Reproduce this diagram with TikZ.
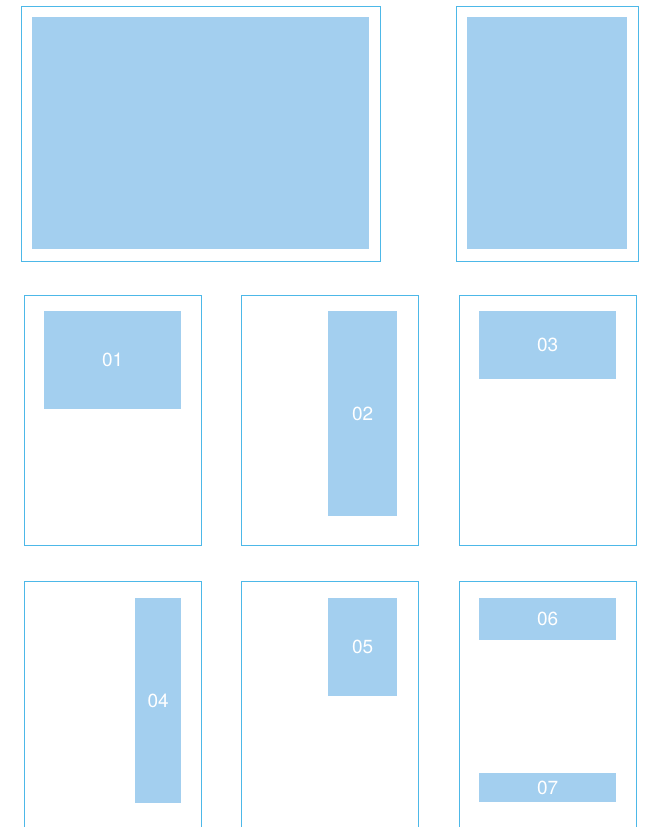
\documentclass[tikz,border=0pt]{standalone}
\usepackage{fontspec}
\setsansfont{TeX Gyre Heros}
\usetikzlibrary{positioning}
\definecolor{frameblue}{HTML}{4DB8E8}
\definecolor{paneblue}{HTML}{A3CFEF}

\begin{document}
\begin{tikzpicture}[x=1pt, y=-1pt, font=\sffamily\fontsize{19}{19}\selectfont,
  page/.style={draw=frameblue, line width=0.9pt, inner sep=0pt, anchor=north west},
  pane/.style={fill=paneblue, text=white, inner sep=0pt, anchor=north west}]
  \useasboundingbox (0,0) rectangle (646,827);
  \clip (0,0) rectangle (646,827);
  % top row: landscape and portrait
  \node[page, minimum width=359pt, minimum height=255pt] (wide) at (21,6) {};
  \node[page, minimum width=182pt, minimum height=255pt] (tall) at (456,6) {};
  \node[pane, minimum width=337pt, minimum height=232pt] (widefill) at (32,17) {};
  \node[pane, minimum width=160pt, minimum height=232pt] (tallfill) at (467,17) {};
  % middle row
  \node[page, minimum width=177pt, minimum height=250pt] (p1) at (24,295) {};
  \node[page, minimum width=177pt, minimum height=250pt] (p2) at (241,295) {};
  \node[page, minimum width=177pt, minimum height=250pt] (p3) at (458.5,295) {};
  \node[pane, minimum width=137pt, minimum height=98pt] (b1) at (44,311) {01};
  \node[pane, minimum width=69pt, minimum height=205pt] (b2) at (328,311) {02};
  \node[pane, minimum width=137pt, minimum height=68pt] (b3) at (479,311) {03};
  % bottom row (runs off the page)
  \node[page, minimum width=177pt, minimum height=270pt] (p4) at (24,581) {};
  \node[page, minimum width=177pt, minimum height=270pt] (p5) at (241,581) {};
  \node[page, minimum width=177pt, minimum height=270pt] (p6) at (458.5,581) {};
  \node[pane, minimum width=46pt, minimum height=205pt] (b4) at (135,598) {04};
  \node[pane, minimum width=69pt, minimum height=98pt] (b5) at (328,598) {05};
  \node[pane, minimum width=137pt, minimum height=42pt] (b6) at (479,598) {06};
  \node[pane, minimum width=137pt, minimum height=29pt] (b7) at (479,773) {07};
\end{tikzpicture}
\end{document}
